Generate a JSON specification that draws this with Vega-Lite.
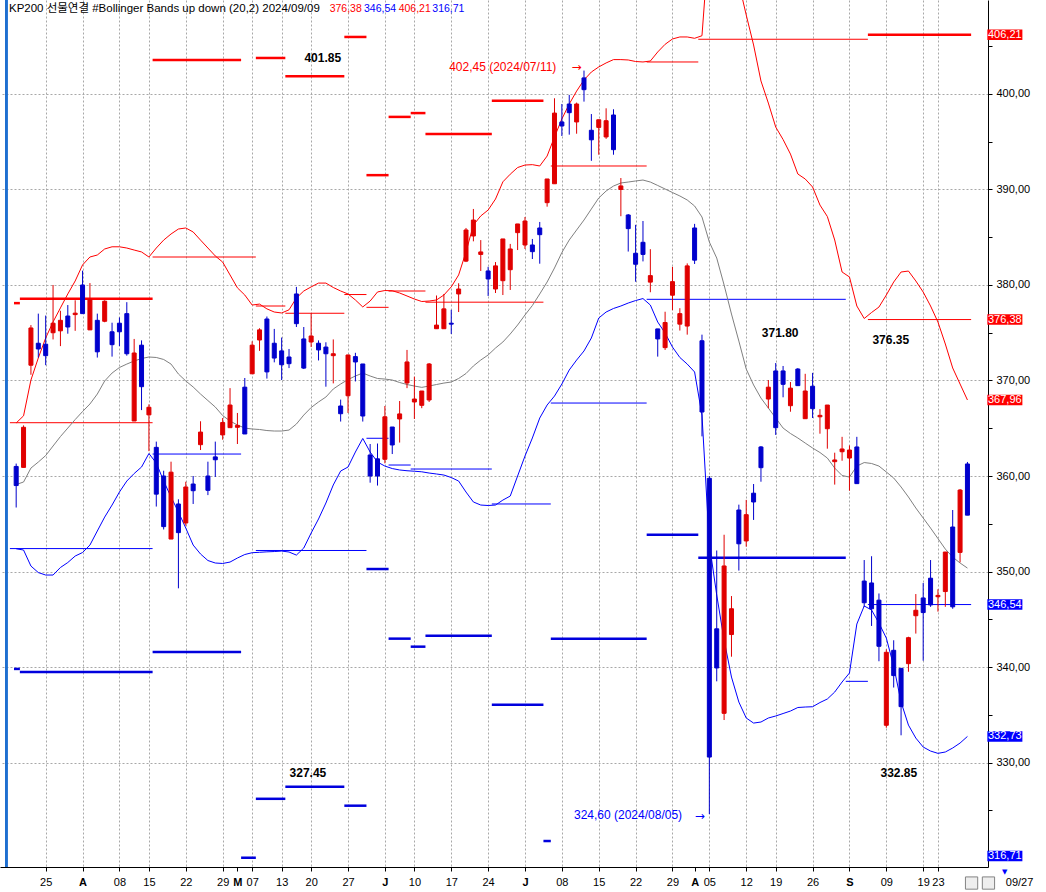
{
"$schema": "https://vega.github.io/schema/vega-lite/v6.json",
"width": 988, "height": 867,
"autosize": {"type": "none"},
"padding": {"left": 0, "top": 0, "right": 58, "bottom": 25},
"background": "white",
"config": {"view": {"stroke": null}, "font": "Liberation Sans", "axis": {"labelOverlap": false}, "axisX": {"labelOverlap": false}},
"datasets": {
"candles": [
{"i":0,"o":361.0,"h":361.3,"l":356.7,"c":359.0},{"i":1,"o":360.9,"h":365.3,"l":360.9,"c":365.1},{"i":2,"o":371.6,"h":375.8,"l":370.6,"c":375.5},{"i":3,"o":373.9,"h":377.0,"l":372.4,"c":373.3},{"i":4,"o":373.8,"h":376.8,"l":371.6,"c":372.6},{"i":5,"o":375.0,"h":380.0,"l":374.3,"c":376.0},{"i":6,"o":375.2,"h":377.3,"l":373.6,"c":376.3},{"i":7,"o":376.75,"h":377.9,"l":374.9,"c":375.6},{"i":8,"o":376.9,"h":378.4,"l":375.2,"c":377.05},{"i":9,"o":380.0,"h":381.5,"l":377.0,"c":377.0},
{"i":10,"o":375.3,"h":380.2,"l":375.3,"c":378.5},{"i":11,"o":376.3,"h":377.0,"l":372.4,"c":373.0},{"i":12,"o":376.2,"h":378.4,"l":376.1,"c":378.3},{"i":13,"o":375.1,"h":376.05,"l":372.5,"c":373.75},{"i":14,"o":376.0,"h":376.6,"l":373.6,"c":375.1},{"i":15,"o":377.0,"h":378.2,"l":372.6,"c":372.8},{"i":16,"o":365.76,"h":374.35,"l":365.76,"c":372.88},{"i":17,"o":373.7,"h":374.2,"l":366.9,"c":369.35},{"i":18,"o":366.4,"h":367.5,"l":362.6,"c":367.2},{"i":19,"o":363.0,"h":363.6,"l":356.8,"c":358.1},
{"i":20,"o":360.0,"h":360.55,"l":354.4,"c":354.7},{"i":21,"o":353.4,"h":361.5,"l":353.4,"c":360.4},{"i":22,"o":357.07,"h":357.56,"l":348.24,"c":354.07},{"i":23,"o":355.08,"h":359.4,"l":354.8,"c":358.85},{"i":24,"o":359.16,"h":360.0,"l":357.07,"c":358.46},{"i":25,"o":363.28,"h":365.73,"l":362.72,"c":364.6},{"i":26,"o":360.0,"h":361.5,"l":358.0,"c":358.5},{"i":27,"o":362.0,"h":363.6,"l":359.9,"c":361.7},{"i":28,"o":364.3,"h":366.07,"l":363.8,"c":365.6},{"i":29,"o":365.06,"h":369.2,"l":365.06,"c":367.43},
{"i":30,"o":365.1,"h":366.6,"l":363.35,"c":365.3},{"i":31,"o":369.3,"h":370.26,"l":364.4,"c":364.4},{"i":32,"o":370.7,"h":374.1,"l":370.7,"c":373.7},{"i":33,"o":374.24,"h":375.47,"l":373.1,"c":375.3},{"i":34,"o":376.44,"h":376.7,"l":370.2,"c":370.9},{"i":35,"o":373.9,"h":375.4,"l":371.9,"c":372.35},{"i":36,"o":373.1,"h":374.5,"l":370.05,"c":371.65},{"i":37,"o":372.46,"h":373.3,"l":371.3,"c":371.76},{"i":38,"o":379.06,"h":379.8,"l":375.6,"c":375.95},{"i":39,"o":374.35,"h":375.6,"l":371.2,"c":371.3},
{"i":40,"o":374.03,"h":377.04,"l":373.5,"c":374.66},{"i":41,"o":373.9,"h":374.2,"l":372.1,"c":373.2},{"i":42,"o":373.5,"h":374.0,"l":369.35,"c":372.8},{"i":43,"o":372.6,"h":374.3,"l":369.7,"c":372.8},{"i":44,"o":367.33,"h":368.0,"l":365.7,"c":366.52},{"i":45,"o":368.4,"h":372.7,"l":366.6,"c":372.67},{"i":46,"o":372.5,"h":372.9,"l":369.9,"c":371.94},{"i":47,"o":371.73,"h":371.73,"l":365.7,"c":366.28},{"i":48,"o":362.2,"h":363.35,"l":359.3,"c":360.0},{"i":49,"o":361.8,"h":363.4,"l":359.0,"c":360.0},
{"i":50,"o":361.75,"h":367.33,"l":361.33,"c":366.2},{"i":51,"o":365.13,"h":365.13,"l":362.3,"c":363.25},{"i":52,"o":365.97,"h":367.85,"l":363.5,"c":366.5},{"i":53,"o":369.74,"h":373.2,"l":369.2,"c":371.94},{"i":54,"o":367.75,"h":370.4,"l":365.97,"c":368.06},{"i":55,"o":367.4,"h":368.9,"l":367.1,"c":368.9},{"i":56,"o":367.96,"h":371.83,"l":367.75,"c":371.73},{"i":57,"o":375.42,"h":378.9,"l":375.4,"c":375.8},{"i":58,"o":375.42,"h":379.06,"l":375.4,"c":377.5},{"i":59,"o":376.0,"h":377.4,"l":374.87,"c":375.9},
{"i":60,"o":379.06,"h":380.18,"l":377.17,"c":379.58},{"i":61,"o":382.5,"h":385.97,"l":382.4,"c":385.76},{"i":62,"o":385.13,"h":387.96,"l":384.57,"c":386.8},{"i":63,"o":383.2,"h":384.7,"l":381.47,"c":383.46},{"i":64,"o":381.47,"h":381.9,"l":378.85,"c":380.63},{"i":65,"o":379.58,"h":382.4,"l":379.16,"c":382.0},{"i":66,"o":380.45,"h":384.82,"l":378.95,"c":384.82},{"i":67,"o":381.6,"h":384.3,"l":379.48,"c":383.77},{"i":68,"o":385.48,"h":386.39,"l":383.66,"c":386.39},{"i":69,"o":384.19,"h":387.12,"l":383.77,"c":386.7},
{"i":70,"o":384.19,"h":384.82,"l":382.72,"c":383.49},{"i":71,"o":385.97,"h":386.6,"l":382.23,"c":385.27},{"i":72,"o":388.62,"h":391.1,"l":388.2,"c":391.1},{"i":73,"o":390.6,"h":399.55,"l":390.6,"c":398.0},{"i":74,"o":397.07,"h":398.95,"l":395.6,"c":396.65},{"i":75,"o":398.95,"h":399.9,"l":395.74,"c":398.04},{"i":76,"o":397.07,"h":399.1,"l":395.84,"c":398.95},{"i":77,"o":401.68,"h":402.45,"l":399.2,"c":400.45},{"i":78,"o":396.2,"h":397.9,"l":393.0,"c":395.2},{"i":79,"o":396.5,"h":397.3,"l":393.64,"c":397.3},
{"i":80,"o":395.5,"h":398.5,"l":395.3,"c":397.2},{"i":81,"o":397.8,"h":398.4,"l":393.64,"c":394.17},{"i":82,"o":390.0,"h":391.2,"l":387.2,"c":390.37},{"i":83,"o":387.33,"h":387.43,"l":383.5,"c":385.9},{"i":84,"o":383.32,"h":386.3,"l":380.34,"c":382.17},{"i":85,"o":384.47,"h":386.7,"l":382.47,"c":383.2},{"i":86,"o":380.3,"h":383.75,"l":379.24,"c":380.98},{"i":87,"o":375.4,"h":375.4,"l":372.5,"c":374.35},{"i":88,"o":373.44,"h":377.2,"l":373.2,"c":376.07},{"i":89,"o":378.93,"h":381.9,"l":377.36,"c":380.35},
{"i":90,"o":375.9,"h":377.57,"l":375.23,"c":377.0},{"i":91,"o":375.7,"h":382.26,"l":374.8,"c":382.0},{"i":92,"o":385.97,"h":386.4,"l":382.2,"c":382.6},{"i":93,"o":374.16,"h":374.8,"l":364.15,"c":366.7},{"i":94,"o":359.76,"h":360.0,"l":324.6,"c":330.57},{"i":95,"o":344.0,"h":352.2,"l":338.5,"c":339.9},{"i":96,"o":335.15,"h":353.85,"l":334.45,"c":350.58},{"i":97,"o":343.4,"h":347.43,"l":341.08,"c":346.1},{"i":98,"o":356.44,"h":357.0,"l":350.1,"c":352.9},{"i":99,"o":353.2,"h":357.5,"l":352.6,"c":355.95},
{"i":100,"o":358.2,"h":359.16,"l":355.4,"c":357.28},{"i":101,"o":363.04,"h":363.14,"l":359.4,"c":360.87},{"i":102,"o":368.06,"h":370.05,"l":367.1,"c":369.3},{"i":103,"o":371.0,"h":371.83,"l":364.3,"c":365.06},{"i":104,"o":371.0,"h":371.52,"l":368.24,"c":369.6},{"i":105,"o":367.36,"h":369.84,"l":366.73,"c":369.2},{"i":106,"o":371.2,"h":371.3,"l":369.46,"c":369.46},{"i":107,"o":366.0,"h":370.7,"l":366.0,"c":368.9},{"i":108,"o":369.4,"h":370.8,"l":366.07,"c":367.05},{"i":109,"o":366.2,"h":367.0,"l":364.43,"c":366.35},
{"i":110,"o":364.95,"h":367.43,"l":362.86,"c":367.43},{"i":111,"o":361.5,"h":362.44,"l":359.1,"c":361.68},{"i":112,"o":362.54,"h":364.1,"l":361.6,"c":362.83},{"i":113,"o":361.88,"h":363.2,"l":358.46,"c":362.72},{"i":114,"o":363.04,"h":364.1,"l":359.2,"c":359.2},{"i":115,"o":349.0,"h":351.2,"l":346.3,"c":346.73},{"i":116,"o":348.8,"h":351.6,"l":344.3,"c":346.1},{"i":117,"o":347.0,"h":347.7,"l":340.6,"c":342.17},{"i":118,"o":333.9,"h":341.85,"l":333.64,"c":341.54},{"i":119,"o":341.75,"h":342.8,"l":337.85,"c":339.1},
{"i":120,"o":339.86,"h":339.86,"l":332.85,"c":335.85},{"i":121,"o":340.35,"h":343.17,"l":339.5,"c":343.07},{"i":122,"o":345.37,"h":347.64,"l":343.5,"c":345.94},{"i":123,"o":347.23,"h":348.8,"l":340.66,"c":345.7},{"i":124,"o":349.3,"h":351.2,"l":346.3,"c":346.5},{"i":125,"o":347.36,"h":348.14,"l":345.8,"c":347.5},{"i":126,"o":347.9,"h":352.04,"l":346.3,"c":352.04},{"i":127,"o":354.66,"h":356.44,"l":346.1,"c":346.3},{"i":128,"o":352.0,"h":358.64,"l":350.96,"c":358.53},{"i":129,"o":361.26,"h":361.47,"l":355.9,"c":355.9}
],
"bands": [
{"i":0,"up":365.55,"mid":359.11,"lo":352.38},{"i":1,"up":366.3,"mid":359.37,"lo":352.25},{"i":2,"up":370.05,"mid":360.83,"lo":350.57},{"i":3,"up":372.36,"mid":361.46,"lo":349.89},{"i":4,"up":374.45,"mid":362.14,"lo":349.63},{"i":5,"up":376.13,"mid":363.14,"lo":349.63},{"i":6,"up":377.6,"mid":364.13,"lo":350.42},{"i":7,"up":379.06,"mid":365.02,"lo":350.94},{"i":8,"up":380.42,"mid":365.91,"lo":351.62},{"i":9,"up":382.1,"mid":366.75,"lo":351.99},
{"i":10,"up":382.93,"mid":367.54,"lo":352.77},{"i":11,"up":383.14,"mid":368.58,"lo":354.24},{"i":12,"up":383.77,"mid":369.95,"lo":355.7},{"i":13,"up":384.0,"mid":370.78,"lo":356.96},{"i":14,"up":384.0,"mid":371.36,"lo":358.32},{"i":15,"up":383.87,"mid":371.72,"lo":359.47},{"i":16,"up":383.66,"mid":372.04,"lo":360.26},{"i":17,"up":383.46,"mid":372.3,"lo":360.94},{"i":18,"up":382.93,"mid":372.46,"lo":362.35},{"i":19,"up":383.87,"mid":372.41,"lo":361.36},
{"i":20,"up":384.7,"mid":372.2,"lo":359.47},{"i":21,"up":385.34,"mid":371.72,"lo":357.8},{"i":22,"up":385.86,"mid":370.68,"lo":356.23},{"i":23,"up":385.97,"mid":369.95,"lo":354.55},{"i":24,"up":385.55,"mid":369.32,"lo":352.77},{"i":25,"up":384.7,"mid":368.58,"lo":351.83},{"i":26,"up":383.87,"mid":367.9,"lo":351.15},{"i":27,"up":383.04,"mid":367.22,"lo":350.89},{"i":28,"up":382.4,"mid":366.33,"lo":350.84},{"i":29,"up":381.05,"mid":365.76,"lo":350.99},
{"i":30,"up":379.7,"mid":365.34,"lo":351.41},{"i":31,"up":378.95,"mid":365.02,"lo":351.78},{"i":32,"up":377.9,"mid":364.92,"lo":351.97},{"i":33,"up":378.0,"mid":364.87,"lo":352.01},{"i":34,"up":377.5,"mid":364.76,"lo":352.06},{"i":35,"up":377.17,"mid":364.71,"lo":352.09},{"i":36,"up":377.07,"mid":364.71,"lo":352.14},{"i":37,"up":377.4,"mid":364.81,"lo":352.04},{"i":38,"up":378.64,"mid":365.44,"lo":351.72},{"i":39,"up":379.37,"mid":366.38,"lo":352.46},
{"i":40,"up":379.8,"mid":367.17,"lo":354.03},{"i":41,"up":380.2,"mid":367.75,"lo":355.5},{"i":42,"up":380.2,"mid":368.27,"lo":357.17},{"i":43,"up":379.74,"mid":369.11,"lo":359.06},{"i":44,"up":379.37,"mid":369.63,"lo":360.52},{"i":45,"up":379.06,"mid":370.1,"lo":360.94},{"i":46,"up":378.43,"mid":370.47,"lo":362.51},{"i":47,"up":377.7,"mid":370.78,"lo":363.93},{"i":48,"up":378.32,"mid":370.47,"lo":362.51},{"i":49,"up":379.27,"mid":370.21,"lo":361.46},
{"i":50,"up":379.42,"mid":370.15,"lo":361.04},{"i":51,"up":379.4,"mid":370.05,"lo":360.78},{"i":52,"up":379.16,"mid":369.79,"lo":360.63},{"i":53,"up":378.85,"mid":369.58,"lo":360.55},{"i":54,"up":378.53,"mid":369.42,"lo":360.5},{"i":55,"up":378.27,"mid":369.28,"lo":360.44},{"i":56,"up":378.32,"mid":369.42,"lo":360.31},{"i":57,"up":378.43,"mid":369.58,"lo":360.21},{"i":58,"up":378.95,"mid":369.73,"lo":360.1},{"i":59,"up":379.8,"mid":369.84,"lo":359.84},
{"i":60,"up":381.05,"mid":370.21,"lo":359.47},{"i":61,"up":383.46,"mid":370.73,"lo":358.32},{"i":62,"up":386.28,"mid":371.52,"lo":357.28},{"i":63,"up":387.23,"mid":372.14,"lo":356.96},{"i":64,"up":387.85,"mid":372.67,"lo":356.91},{"i":65,"up":389.0,"mid":373.4,"lo":356.96},{"i":66,"up":390.8,"mid":374.03,"lo":357.48},{"i":67,"up":391.6,"mid":374.87,"lo":357.9},{"i":68,"up":392.3,"mid":375.81,"lo":360.0},{"i":69,"up":392.56,"mid":376.86,"lo":362.09},
{"i":70,"up":392.6,"mid":377.85,"lo":363.98},{"i":71,"up":392.46,"mid":379.06,"lo":366.07},{"i":72,"up":393.5,"mid":380.31,"lo":367.43},{"i":73,"up":395.5,"mid":381.78,"lo":368.37},{"i":74,"up":397.38,"mid":383.4,"lo":369.63},{"i":75,"up":398.95,"mid":384.71,"lo":371.1},{"i":76,"up":400.3,"mid":385.76,"lo":372.14},{"i":77,"up":401.47,"mid":386.8,"lo":373.09},{"i":78,"up":402.3,"mid":387.96,"lo":374.45},{"i":79,"up":402.83,"mid":389.11,"lo":376.54},
{"i":80,"up":403.25,"mid":389.84,"lo":377.17},{"i":81,"up":403.6,"mid":390.36,"lo":377.54},{"i":82,"up":403.6,"mid":390.68,"lo":377.8},{"i":83,"up":403.56,"mid":390.78,"lo":378.11},{"i":84,"up":403.4,"mid":390.89,"lo":378.37},{"i":85,"up":403.35,"mid":390.99,"lo":378.58},{"i":86,"up":403.45,"mid":390.78,"lo":377.9},{"i":87,"up":404.4,"mid":390.42,"lo":376.12},{"i":88,"up":405.2,"mid":390.05,"lo":374.97},{"i":89,"up":405.76,"mid":389.68,"lo":373.5},
{"i":90,"up":405.97,"mid":389.32,"lo":372.41},{"i":91,"up":405.97,"mid":388.9,"lo":371.72},{"i":92,"up":405.83,"mid":388.27,"lo":370.89},{"i":93,"up":406.1,"mid":387.12,"lo":366.38},{"i":94,"up":416.5,"mid":384.5,"lo":352.88},{"i":95,"up":418.1,"mid":382.82,"lo":347.54},{"i":96,"up":417.2,"mid":380.0,"lo":342.82},{"i":97,"up":415.0,"mid":376.96,"lo":338.95},{"i":98,"up":411.6,"mid":374.13,"lo":336.33},{"i":99,"up":408.27,"mid":371.2,"lo":334.66},
{"i":100,"up":405.13,"mid":369.53,"lo":334.13},{"i":101,"up":401.36,"mid":368.16,"lo":334.24},{"i":102,"up":399.05,"mid":367.12,"lo":334.66},{"i":103,"up":396.54,"mid":366.07,"lo":334.87},{"i":104,"up":395.23,"mid":365.02,"lo":335.13},{"i":105,"up":393.71,"mid":364.45,"lo":335.39},{"i":106,"up":391.62,"mid":363.98,"lo":335.76},{"i":107,"up":391.1,"mid":363.45,"lo":335.81},{"i":108,"up":390.26,"mid":362.93,"lo":335.84},{"i":109,"up":388.37,"mid":362.46,"lo":336.28},
{"i":110,"up":387.17,"mid":361.88,"lo":336.65},{"i":111,"up":384.71,"mid":360.83,"lo":337.38},{"i":112,"up":381.36,"mid":360.05,"lo":338.43},{"i":113,"up":380.84,"mid":359.89,"lo":339.37},{"i":114,"up":377.8,"mid":361.04,"lo":344.5},{"i":115,"up":376.49,"mid":361.41,"lo":346.39},{"i":116,"up":377.12,"mid":361.31,"lo":345.97},{"i":117,"up":377.69,"mid":361.04,"lo":344.6},{"i":118,"up":378.95,"mid":360.42,"lo":343.03},{"i":119,"up":380.31,"mid":359.79,"lo":340.1},
{"i":120,"up":381.36,"mid":358.85,"lo":336.33},{"i":121,"up":381.46,"mid":357.8,"lo":333.92},{"i":122,"up":380.42,"mid":356.65,"lo":332.56},{"i":123,"up":379.26,"mid":355.6,"lo":331.62},{"i":124,"up":377.8,"mid":354.55,"lo":331.2},{"i":125,"up":376.12,"mid":353.45,"lo":330.96},{"i":126,"up":373.82,"mid":352.35,"lo":331.1},{"i":127,"up":371.31,"mid":351.51,"lo":331.52},{"i":128,"up":369.63,"mid":350.89,"lo":332.04},{"i":129,"up":367.96,"mid":350.36,"lo":332.73}
],
"segs": [
{"k":"R","a":-0.3,"b":0.5,"v":378.1},{"k":"R","a":0.5,"b":18.5,"v":378.57},{"k":"R","a":18.5,"b":30.5,"v":403.56},{"k":"R","a":32.5,"b":36.5,"v":403.77},{"k":"R","a":36.5,"b":44.5,"v":401.85},{"k":"R","a":44.5,"b":47.5,"v":405.97},{"k":"R","a":47.5,"b":50.5,"v":391.5},{"k":"R","a":50.5,"b":53.5,"v":397.6},{"k":"R","a":53.5,"b":55.5,"v":398.0},{"k":"R","a":55.5,"b":64.5,"v":395.8},{"k":"R","a":64.5,"b":71.5,"v":399.3},{"k":"R","a":115.5,"b":129.5,"v":406.21},
{"k":"r","a":-0.85,"b":18.5,"v":365.58},{"k":"r","a":18.5,"b":32.5,"v":382.93},{"k":"r","a":32.5,"b":36.5,"v":377.8},{"k":"r","a":36.5,"b":44.5,"v":377.04},{"k":"r","a":44.5,"b":47.5,"v":379.0},{"k":"r","a":47.5,"b":50.5,"v":377.66},{"k":"r","a":50.5,"b":55.5,"v":379.37},{"k":"r","a":55.5,"b":71.5,"v":378.2},{"k":"r","a":72.5,"b":85.5,"v":392.46},{"k":"r","a":85.5,"b":92.5,"v":403.35},{"k":"r","a":92.5,"b":115.5,"v":405.73},{"k":"r","a":115.5,"b":129.5,"v":376.38},
{"k":"b","a":-0.85,"b":18.5,"v":352.4},{"k":"b","a":18.5,"b":30.5,"v":362.3},{"k":"b","a":32.5,"b":47.5,"v":352.2},{"k":"b","a":47.5,"b":50.5,"v":363.95},{"k":"b","a":50.5,"b":53.5,"v":361.15},{"k":"b","a":53.5,"b":64.5,"v":360.73},{"k":"b","a":64.5,"b":72.5,"v":357.07},{"k":"b","a":72.5,"b":85.5,"v":367.64},{"k":"b","a":85.5,"b":112.5,"v":378.5},{"k":"b","a":112.5,"b":115.5,"v":338.5},{"k":"b","a":115.5,"b":129.5,"v":346.54},
{"k":"B","a":-0.3,"b":0.5,"v":339.8},{"k":"B","a":0.5,"b":18.5,"v":339.48},{"k":"B","a":18.5,"b":30.5,"v":341.57},{"k":"B","a":30.5,"b":32.5,"v":320.03},{"k":"B","a":32.5,"b":36.5,"v":326.2},{"k":"B","a":36.5,"b":44.5,"v":327.45},{"k":"B","a":44.5,"b":47.5,"v":325.48},{"k":"B","a":47.5,"b":50.5,"v":350.26},{"k":"B","a":50.5,"b":53.5,"v":342.97},{"k":"B","a":53.5,"b":55.5,"v":342.13},{"k":"B","a":55.5,"b":64.5,"v":343.28},{"k":"B","a":64.5,"b":71.5,"v":336.05},{"k":"B","a":71.5,"b":72.5,"v":321.78},{"k":"B","a":72.5,"b":85.5,"v":342.97},{"k":"B","a":85.5,"b":92.5,"v":353.85},{"k":"B","a":92.5,"b":112.5,"v":351.45}
],
"bold": [
{"i":41.57,"p":403.77,"t":"401.85"},{"i":39.56,"p":328.9,"t":"327.45"},{"i":103.6,"p":374.97,"t":"371.80"},{"i":118.6,"p":374.19,"t":"376.35"},{"i":119.7,"p":328.9,"t":"332.85"}
],
"notes": [
{"i":73.25,"p":402.82,"t":"402,45 (2024/07/11)","k":"up","ai":76.0,"ap":402.82},
{"i":90.3,"p":324.5,"t":"324,60 (2024/08/05)","k":"down","ai":92.7,"ap":324.4}
],
"tags": [
{"v":406.21,"t":"406,21","k":"up"},{"v":376.38,"t":"376,38","k":"up"},{"v":367.96,"t":"367,96","k":"up"},{"v":346.54,"t":"346,54","k":"down"},{"v":332.73,"t":"332,73","k":"down"},{"v":316.71,"t":"316,71","k":"down"}
],
"header": [
{"i":-0.98,"t":"KP200 선물연결 #Bollinger Bands up down  (20,2) 2024/09/09","k":"text"}
],
"hnums": [
{"i":42.51,"t":"376,38","k":"up"},{"i":47.17,"t":"346,54","k":"down"},{"i":51.87,"t":"406,21","k":"up"},{"i":56.43,"t":"316,71","k":"down"}
],
"icons": [{"n":129.56},{"n":131.85}]
},
"layer": [
{
"data": {"name": "segs"},
"transform": [{"filter": "datum.k == 'R'"}],
"mark": {"type": "rule", "strokeWidth": 2.5, "color": "#ff0000"},
"encoding": {
"x": {"field": "a", "type": "quantitative", "title": null, "scale": {"domain": [-1.517, 131.11], "nice": false, "zero": false},
"axis": {"title": null, "tickCount": 60, "values": [4,9,14,18,23,28,30,32,36,40,45,50,54,59,64,69,74,79,84,89,92,94,99,103,108,113,118,123,125],
"labelExpr": "{'4':'25','9':'A','14':'08','18':'15','23':'22','28':'29','30':'M','32':'07','36':'13','40':'20','45':'27','50':'J','54':'10','59':'17','64':'24','69':'J','74':'08','79':'15','84':'22','89':'29','92':'A','94':'05','99':'12','103':'19','108':'26','113':'S','118':'09','123':'19','125':'23'}[datum.value]",
"grid": true, "gridDash": [2, 2], "gridColor": "#a8a8a8",
"gridOpacity": {"condition": {"test": "datum.value == 30 || datum.value == 92", "value": 0}, "value": 1},
"labelFontWeight": {"condition": {"test": "indexof([9,30,50,69,92,113], datum.value) >= 0", "value": "bold"}, "value": "normal"},
"labelFont": "Liberation Sans", "labelFontSize": 11, "labelColor": "#000000", "labelPadding": 5, "labelOverlap": false, "labelFlush": false, "labelSeparation": 0,
"tickColor": "#000000", "tickSize": 4, "domainColor": "#000000"}},
"x2": {"field": "b"},
"y": {"field": "v", "type": "quantitative", "title": null, "scale": {"domain": [319.06, 409.84], "nice": false, "zero": false},
"axis": {"title": null, "orient": "right", "tickCount": 40, "values": [325,330,335,340,345,350,355,360,365,370,375,380,385,390,395,400,405],
"labelExpr": "datum.value % 10 == 0 ? replace(format(datum.value, '.2f'), '.', ',') : ''",
"grid": true, "gridDash": [2, 2], "gridColor": "#a8a8a8",
"gridOpacity": {"condition": {"test": "datum.value % 10 != 0", "value": 0}, "value": 1},
"labelFont": "Liberation Sans", "labelFontSize": 11, "labelColor": "#000000", "labelPadding": 4,
"tickColor": "#000000", "tickSize": 4, "domainColor": "#000000"}}
}
},
{
"data": {"name": "segs"},
"transform": [{"filter": "datum.k == 'r'"}],
"mark": {"type": "rule", "strokeWidth": 1, "color": "#ff0000"},
"encoding": {"x": {"field": "a", "type": "quantitative", "title": null}, "x2": {"field": "b"}, "y": {"field": "v", "type": "quantitative", "title": null}}
},
{
"data": {"name": "segs"},
"transform": [{"filter": "datum.k == 'b'"}],
"mark": {"type": "rule", "strokeWidth": 1, "color": "#0000ff"},
"encoding": {"x": {"field": "a", "type": "quantitative", "title": null}, "x2": {"field": "b"}, "y": {"field": "v", "type": "quantitative", "title": null}}
},
{
"data": {"name": "segs"},
"transform": [{"filter": "datum.k == 'B'"}],
"mark": {"type": "rule", "strokeWidth": 2.5, "color": "#0000dd"},
"encoding": {"x": {"field": "a", "type": "quantitative", "title": null}, "x2": {"field": "b"}, "y": {"field": "v", "type": "quantitative", "title": null}}
},
{
"data": {"name": "bands"},
"mark": {"type": "line", "strokeWidth": 1, "color": "#ff0000", "clip": true},
"encoding": {"x": {"field": "i", "type": "quantitative", "title": null}, "y": {"field": "up", "type": "quantitative", "title": null}}
},
{
"data": {"name": "bands"},
"mark": {"type": "line", "strokeWidth": 1, "color": "#808080", "clip": true},
"encoding": {"x": {"field": "i", "type": "quantitative", "title": null}, "y": {"field": "mid", "type": "quantitative", "title": null}}
},
{
"data": {"name": "bands"},
"mark": {"type": "line", "strokeWidth": 1, "color": "#0000ff", "clip": true},
"encoding": {"x": {"field": "i", "type": "quantitative", "title": null}, "y": {"field": "lo", "type": "quantitative", "title": null}}
},
{
"data": {"name": "candles"},
"mark": {"type": "rule", "strokeWidth": 1},
"encoding": {
"x": {"field": "i", "type": "quantitative", "title": null},
"y": {"field": "l", "type": "quantitative", "title": null},
"y2": {"field": "h"},
"color": {"condition": {"test": "datum.c >= datum.o", "value": "#e00000"}, "value": "#0000cc"}
}
},
{
"data": {"name": "candles"},
"mark": {"type": "bar", "width": 4, "strokeWidth": 1},
"encoding": {
"x": {"field": "i", "type": "quantitative", "title": null},
"y": {"field": "o", "type": "quantitative", "title": null},
"y2": {"field": "c"},
"color": {"condition": {"test": "datum.c >= datum.o", "value": "#e00000"}, "value": "#0000cc"},
"stroke": {"condition": {"test": "datum.c >= datum.o", "value": "#e00000"}, "value": "#0000cc"}
}
},
{
"data": {"name": "bold"},
"mark": {"type": "text", "font": "Liberation Sans", "fontSize": 12, "fontWeight": "bold", "color": "#000000", "align": "center", "baseline": "middle"},
"encoding": {"x": {"field": "i", "type": "quantitative", "title": null}, "y": {"field": "p", "type": "quantitative", "title": null}, "text": {"field": "t"}}
},
{
"data": {"name": "notes"},
"mark": {"type": "text", "font": "Liberation Sans", "fontSize": 12, "align": "right", "baseline": "middle"},
"encoding": {"x": {"field": "i", "type": "quantitative", "title": null}, "y": {"field": "p", "type": "quantitative", "title": null}, "text": {"field": "t"},
"color": {"field": "k", "type": "nominal", "scale": {"domain": ["up", "down", "text"], "range": ["#ff0000", "#0000ff", "#000000"]}, "legend": null}}
},
{
"data": {"name": "notes"},
"mark": {"type": "text", "font": "DejaVu Sans", "fontSize": 12, "align": "center", "baseline": "middle", "text": "→"},
"encoding": {"x": {"field": "ai", "type": "quantitative", "title": null}, "y": {"field": "ap", "type": "quantitative", "title": null},
"color": {"field": "k", "type": "nominal", "legend": null}}
},
{
"data": {"name": "tags"},
"transform": [{"calculate": "max(datum.v, 320.2)", "as": "shown"}, {"calculate": "datum.shown - 0.55", "as": "lo"}, {"calculate": "datum.shown + 0.55", "as": "hi"}],
"mark": {"type": "rect"},
"encoding": {"x": {"datum": 131.7, "type": "quantitative"}, "x2": {"datum": 136.45},
"y": {"field": "lo", "type": "quantitative", "title": null}, "y2": {"field": "hi"},
"color": {"field": "k", "type": "nominal", "legend": null}}
},
{
"data": {"name": "tags"},
"transform": [{"calculate": "max(datum.v, 320.2)", "as": "shown"}],
"mark": {"type": "text", "font": "Liberation Sans", "fontSize": 11, "color": "#ffffff", "align": "center", "baseline": "middle"},
"encoding": {"x": {"datum": 134.07, "type": "quantitative"}, "y": {"field": "shown", "type": "quantitative", "title": null}, "text": {"field": "t"}}
},
{
"data": {"name": "header"},
"mark": {"type": "text", "font": "Liberation Sans, Noto Sans CJK KR", "fontSize": 11.5, "align": "left", "baseline": "middle"},
"encoding": {"x": {"field": "i", "type": "quantitative", "title": null}, "y": {"datum": 408.9, "type": "quantitative"}, "text": {"field": "t"},
"color": {"field": "k", "type": "nominal", "legend": null}}
},
{
"data": {"name": "hnums"},
"mark": {"type": "text", "font": "Liberation Sans", "fontSize": 10.5, "align": "left", "baseline": "middle"},
"encoding": {"x": {"field": "i", "type": "quantitative", "title": null}, "y": {"datum": 408.9, "type": "quantitative"}, "text": {"field": "t"},
"color": {"field": "k", "type": "nominal", "legend": null}}
},
{
"data": {"values": [{"t": "09/27"}]},
"mark": {"type": "text", "font": "Liberation Sans", "fontSize": 11, "color": "#000000", "align": "center", "baseline": "middle"},
"encoding": {"x": {"datum": 136.07, "type": "quantitative"}, "y": {"datum": 317.38, "type": "quantitative"}, "text": {"field": "t"}}
},
{
"data": {"values": [{"t": "▼"}]},
"mark": {"type": "text", "font": "DejaVu Sans", "fontSize": 7, "color": "#0000ff", "align": "center", "baseline": "middle"},
"encoding": {"x": {"datum": 134.06, "type": "quantitative"}, "y": {"datum": 318.53, "type": "quantitative"}, "text": {"field": "t"}}
},
{
"data": {"name": "icons"},
"mark": {"type": "point", "shape": "square", "size": 150, "filled": true, "fill": "#e8e8e8", "stroke": "#505050", "strokeWidth": 1},
"encoding": {"x": {"field": "n", "type": "quantitative", "title": null}, "y": {"datum": 317.38, "type": "quantitative"}}
},
{
"data": {"values": [{"t": "x"}]},
"mark": {"type": "rect", "color": "#1e6fd0"},
"encoding": {"x": {"datum": -1.517, "type": "quantitative"}, "x2": {"datum": -1.12}, "y": {"datum": 319.06, "type": "quantitative"}, "y2": {"datum": 409.84}}
}
]
}
